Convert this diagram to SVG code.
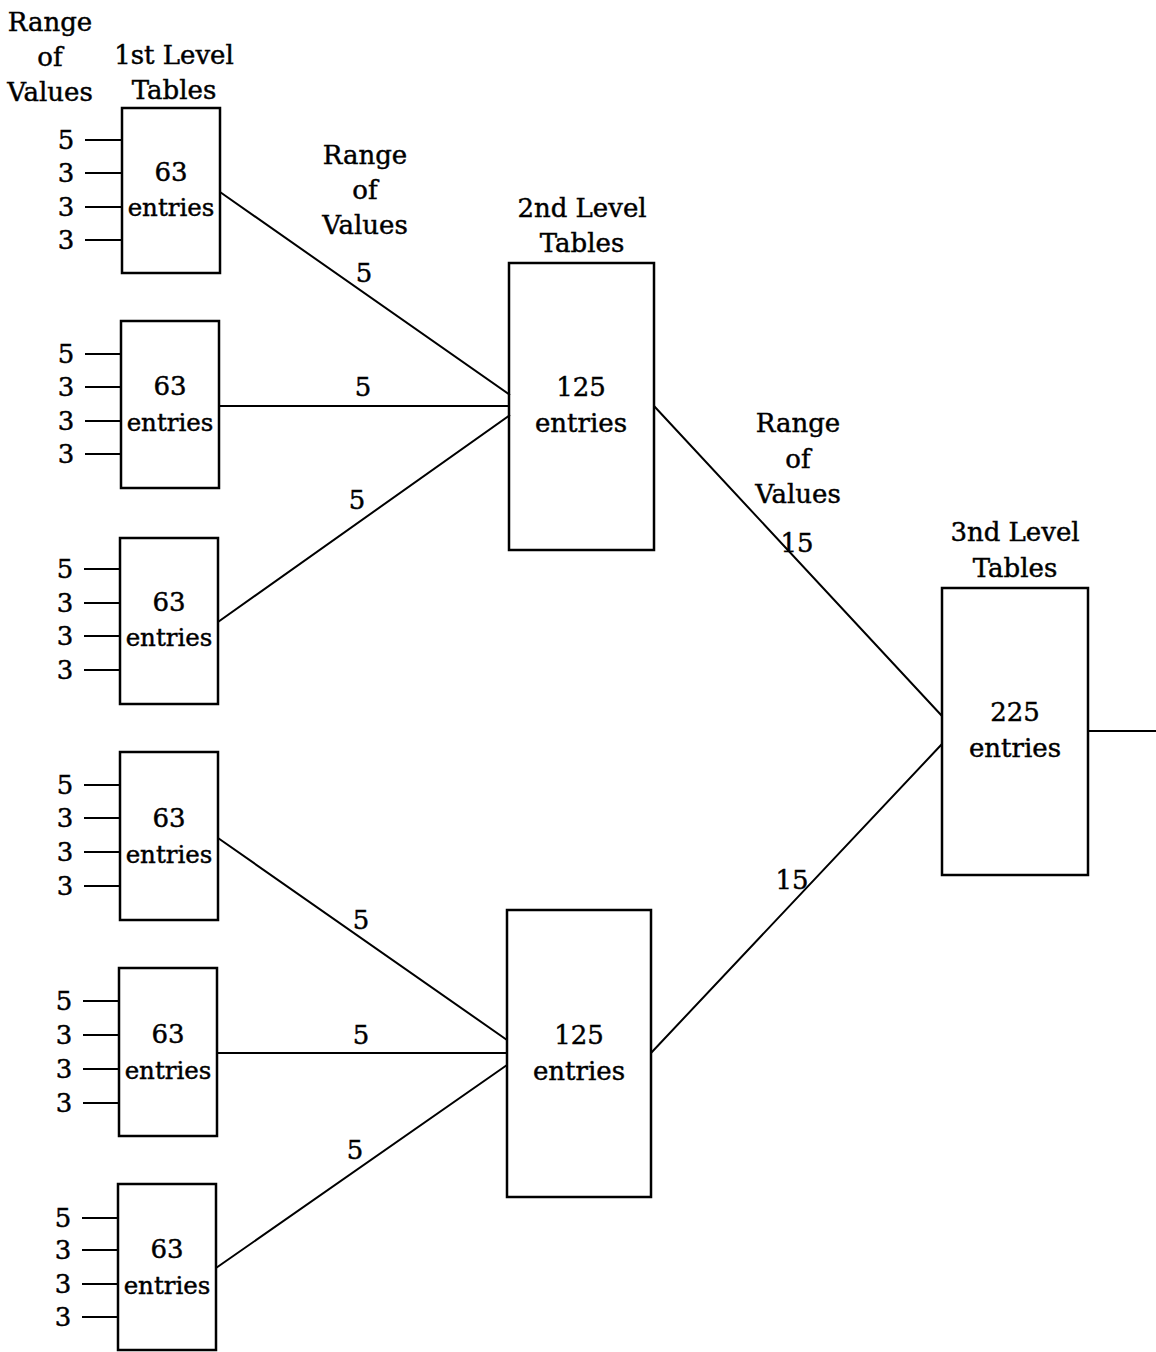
<svg xmlns="http://www.w3.org/2000/svg" width="1156" height="1352" viewBox="0 0 1156 1352">
<style>
text{font-family:"DejaVu Serif",serif;font-size:26px;fill:#000;stroke:#000;stroke-width:0.45;text-anchor:middle}
text.e{font-size:24.5px}
.box{fill:none;stroke:#000;stroke-width:2.5}
.ln{stroke:#000;stroke-width:2;fill:none}
</style>
<rect width="1156" height="1352" fill="#fff"/>
<g id="headers">
<text x="50" y="31">Range</text><text x="50" y="66">of</text><text x="50" y="101">Values</text>
<text x="174" y="64">1st Level</text><text x="174" y="99">Tables</text>
<text x="365" y="164">Range</text><text x="365" y="199">of</text><text x="365" y="234">Values</text>
<text x="582" y="217">2nd Level</text><text x="582" y="252">Tables</text>
<text x="798" y="432">Range</text><text x="798" y="468">of</text><text x="798" y="503">Values</text>
<text x="1015" y="541">3nd Level</text><text x="1015" y="577">Tables</text>
</g>
<g id="connectors">
<path class="ln" d="M85 140H122M85 173H122M85 207H122M85 240H122"/>
<path class="ln" d="M85 354H121M85 387H121M85 421H121M85 454H121"/>
<path class="ln" d="M84 569H120M84 603H120M84 636H120M84 670H120"/>
<path class="ln" d="M84 785H120M84 818H120M84 852H120M84 886H120"/>
<path class="ln" d="M83 1001H119M83 1035H119M83 1069H119M83 1103H119"/>
<path class="ln" d="M82 1218H118M82 1250H118M82 1284H118M82 1317H118"/>
<path class="ln" d="M220 192L510 395M219 406H510M218 622L510 415"/>
<path class="ln" d="M218 838L507 1040M217 1053H507M216 1268L507 1065"/>
<path class="ln" d="M654 406L942 716M651 1053L942 744M1088 731H1156"/>
</g>
<g id="line-labels">
<text x="364" y="282">5</text><text x="363" y="396">5</text><text x="357" y="509">5</text>
<text x="797" y="552">15</text><text x="792" y="889">15</text>
<text x="361" y="929">5</text><text x="361" y="1044">5</text><text x="355" y="1159">5</text>
</g>
<g id="input-labels">
<text x="66" y="149">5</text><text x="66" y="182">3</text><text x="66" y="216">3</text><text x="66" y="249">3</text>
<text x="66" y="363">5</text><text x="66" y="396">3</text><text x="66" y="430">3</text><text x="66" y="463">3</text>
<text x="65" y="578">5</text><text x="65" y="612">3</text><text x="65" y="645">3</text><text x="65" y="679">3</text>
<text x="65" y="794">5</text><text x="65" y="827">3</text><text x="65" y="861">3</text><text x="65" y="895">3</text>
<text x="64" y="1010">5</text><text x="64" y="1044">3</text><text x="64" y="1078">3</text><text x="64" y="1112">3</text>
<text x="63" y="1227">5</text><text x="63" y="1259">3</text><text x="63" y="1293">3</text><text x="63" y="1326">3</text>
</g>
<g id="t1a"><rect class="box" x="122" y="108" width="98" height="165"/><text x="171" y="181">63</text><text class="e" x="171" y="216">entries</text></g>
<g id="t1b"><rect class="box" x="121" y="321" width="98" height="167"/><text x="170" y="395">63</text><text class="e" x="170" y="431">entries</text></g>
<g id="t1c"><rect class="box" x="120" y="538" width="98" height="166"/><text x="169" y="611">63</text><text class="e" x="169" y="646">entries</text></g>
<g id="t1d"><rect class="box" x="120" y="752" width="98" height="168"/><text x="169" y="827">63</text><text class="e" x="169" y="863">entries</text></g>
<g id="t1e"><rect class="box" x="119" y="968" width="98" height="168"/><text x="168" y="1043">63</text><text class="e" x="168" y="1079">entries</text></g>
<g id="t1f"><rect class="box" x="118" y="1184" width="98" height="166"/><text x="167" y="1258">63</text><text class="e" x="167" y="1294">entries</text></g>
<g id="t2a"><rect class="box" x="509" y="263" width="145" height="287"/><text x="581" y="396">125</text><text x="581" y="432">entries</text></g>
<g id="t2b"><rect class="box" x="507" y="910" width="144" height="287"/><text x="579" y="1044">125</text><text x="579" y="1080">entries</text></g>
<g id="t3"><rect class="box" x="942" y="588" width="146" height="287"/><text x="1015" y="721">225</text><text x="1015" y="757">entries</text></g>
</svg>
